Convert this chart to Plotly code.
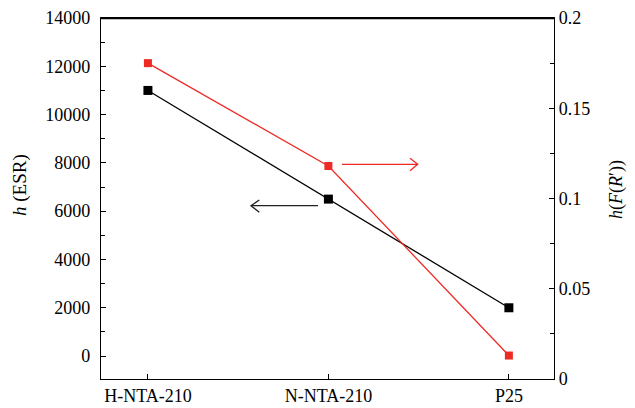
import plotly.graph_objects as go

categories = ["H-NTA-210", "N-NTA-210", "P25"]
h_esr = [11000, 6500, 2000]
h_fr = [0.175, 0.118, 0.013]
left_ticks = [0, 2000, 4000, 6000, 8000, 10000, 12000, 14000]
left_tick_text = ["0", "2000", "4000", "6000", "8000", "10000", "12000", "14000"]
right_ticks = [0, 0.05, 0.1, 0.15, 0.2]
right_tick_text = ["0", "0.05", "0.1", "0.15", "0.2"]
left_title = "<i>h</i> (ESR)"
right_title = "<i>h</i>(<i>F</i>(<i>R</i>′))"

RED = "#ee2a24"
FONT = "Liberation Serif, Times New Roman, serif"
xpos = list(range(len(categories)))

fig = go.Figure()
fig.add_trace(go.Scatter(x=xpos, y=h_esr, mode="lines+markers",
                         line=dict(color="black", width=1.3),
                         marker=dict(symbol="square", size=9, color="black"),
                         yaxis="y", showlegend=False))
fig.add_trace(go.Scatter(x=xpos, y=h_fr, mode="lines+markers",
                         line=dict(color=RED, width=1.3),
                         marker=dict(symbol="square", size=8, color=RED),
                         yaxis="y2", showlegend=False))

# page body has an 8px margin, so the figure is offset by (8, 8)
OFF = 8
FW, FH = 635 - OFF, 408 - OFF
L, R, T, B = 101, 554, 18, 379
W, H = R - L, B - T
def px(x):
    return (x - L) / W
def py(y):
    return (B - y) / H

def path(pts):
    return "M " + " L ".join(f"{px(x):.4f},{py(y):.4f}" for x, y in pts)

shapes = [
    dict(type="path", xref="paper", yref="paper", path=path([(342, 164.3), (417.7, 164.3)]),
         line=dict(color=RED, width=1.3)),
    dict(type="path", xref="paper", yref="paper", path=path([(410, 158.3), (417.7, 164.3), (410, 170.7)]),
         line=dict(color=RED, width=1.3)),
    dict(type="path", xref="paper", yref="paper", path=path([(318, 205.7), (251, 205.7)]),
         line=dict(color="#222", width=1.3)),
    dict(type="path", xref="paper", yref="paper", path=path([(259.3, 200), (251, 205.7), (259.3, 212.3)]),
         line=dict(color="#222", width=1.3)),
    dict(type="path", xref="paper", yref="paper", path=path([(L, T + 0.5), (R, T + 0.5)]),
         line=dict(color="black", width=1.6), layer="above"),
]

annotations = [
    dict(text=left_title, xref="paper", yref="paper", x=px(20), y=py(185),
         xanchor="center", yanchor="middle", textangle=-90, showarrow=False,
         font=dict(family=FONT, size=19, color="black")),
    dict(text=right_title, xref="paper", yref="paper", x=px(616), y=py(190),
         xanchor="center", yanchor="middle", textangle=-90, showarrow=False,
         font=dict(family=FONT, size=18, color="black")),
]

fig.update_layout(
    width=FW, height=FH,
    margin=dict(l=L - OFF, r=635 - R, t=T - OFF, b=408 - B, autoexpand=False),
    paper_bgcolor="white", plot_bgcolor="white",
    font=dict(family=FONT, size=18, color="black"),
    shapes=shapes,
    annotations=annotations,
    xaxis=dict(range=[-0.26, 2.25], tickvals=xpos, ticktext=categories,
               ticks="inside", ticklen=5, tickwidth=1, tickcolor="black",
               showline=True, linecolor="black", linewidth=1.3, mirror=True,
               showgrid=False, zeroline=False, tickfont=dict(family=FONT, size=18),
               automargin=False),
    yaxis=dict(range=[-950, 14000], tickvals=left_ticks, ticktext=left_tick_text,
               ticks="inside", ticklen=5, tickwidth=1, tickcolor="black",
               minor=dict(dtick=1000, tick0=0, ticks="inside", ticklen=4, tickcolor="black"),
               showline=True, linecolor="black", linewidth=1.3,
               showgrid=False, zeroline=False, tickfont=dict(family=FONT, size=18),
               ticklabelstandoff=6, automargin=False),
    yaxis2=dict(range=[0, 0.2], tickvals=right_ticks, ticktext=right_tick_text,
                overlaying="y", side="right",
                ticks="inside", ticklen=5, tickwidth=1, tickcolor="black",
                minor=dict(dtick=0.025, tick0=0, ticks="inside", ticklen=4, tickcolor="black"),
                showline=True, linecolor="black", linewidth=1.3,
                showgrid=False, zeroline=False, tickfont=dict(family=FONT, size=18),
                automargin=False),
)

fig.write_html("out.html")
